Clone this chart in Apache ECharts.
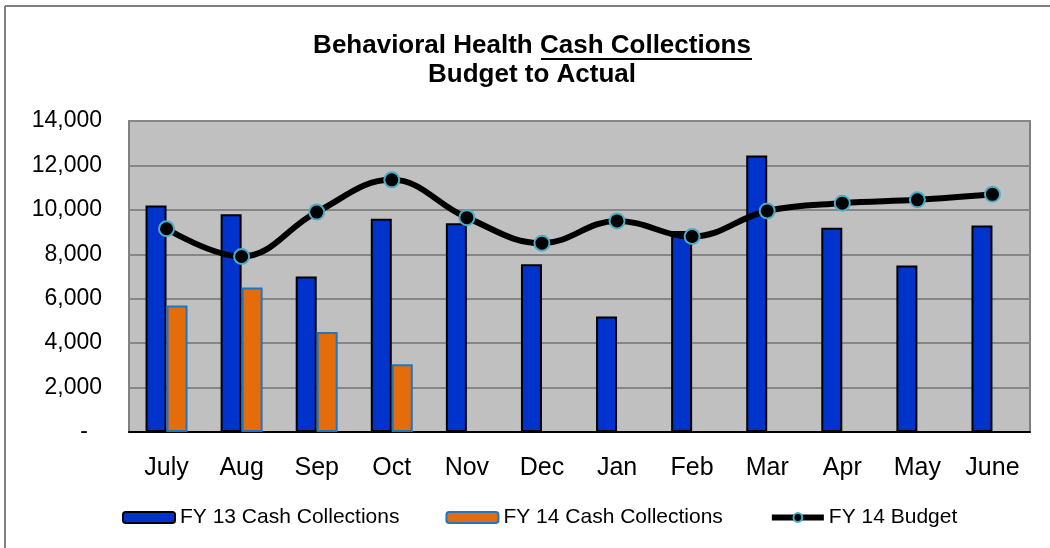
<!DOCTYPE html>
<html>
<head>
<meta charset="utf-8">
<script src="https://cdn.jsdelivr.net/npm/echarts@6/dist/echarts.min.js"></script>
<style>
  html, body { margin: 0; padding: 0; background: #fff; }
  #chart { width: 1050px; height: 548px; }
</style>
</head>
<body>
<div id="chart"></div>
<script>
const categories = ['July', 'Aug', 'Sep', 'Oct', 'Nov', 'Dec', 'Jan', 'Feb', 'Mar', 'Apr', 'May', 'June'];
const fy13Collections = [10200, 9800, 7000, 9600, 9400, 7550, 5200, 9050, 12450, 9200, 7500, 9300];
const fy14Collections = [5700, 6500, 4500, 3050, null, null, null, null, null, null, null, null];
const fy14Budget = [9150, 7900, 9900, 11350, 9650, 8500, 9500, 8800, 9950, 10300, 10450, 10700];
const yMin = 0;
const yMax = 14000;
const yStep = 2000;

const FONT = '"Liberation Sans", Arial, sans-serif';

const chart = echarts.init(document.getElementById('chart'));

chart.setOption({
  backgroundColor: '#fff',
  animation: false,
  textStyle: { fontFamily: FONT },
  graphic: [
    // title, two lines
    {
      type: 'text', x: 532, y: 46,
      style: { text: 'Behavioral Health Cash Collections', font: 'bold 26px ' + FONT, fill: '#000', align: 'center', verticalAlign: 'middle' },
    },
    {
      type: 'text', x: 532, y: 75,
      style: { text: 'Budget to Actual', font: 'bold 26px ' + FONT, fill: '#000', align: 'center', verticalAlign: 'middle' },
    },
    // underline under "Cash Collections"
    { type: 'line', shape: { x1: 541, y1: 59, x2: 752, y2: 59 }, style: { stroke: '#000', lineWidth: 2 } },
    // outer chart frame (top and left edges visible)
    { type: 'line', shape: { x1: 5, y1: 6, x2: 1050, y2: 6 }, style: { stroke: '#7f7f7f', lineWidth: 2 } },
    { type: 'line', shape: { x1: 5, y1: 6, x2: 5, y2: 548 }, style: { stroke: '#7f7f7f', lineWidth: 2 } },
  ],
  legend: {
    left: 117,
    top: 502,
    itemWidth: 52,
    itemHeight: 11,
    itemGap: 46,
    textStyle: { fontFamily: FONT, fontSize: 21, color: '#000' },
    lineStyle: { width: 6 },
    data: ['FY 13 Cash Collections', 'FY 14 Cash Collections', 'FY 14 Budget'],
  },
  grid: {
    left: 129,
    right: 20,
    top: 121,
    bottom: 116,
    show: true,
    backgroundColor: '#c0c0c0',
    borderColor: '#808080',
    borderWidth: 2,
  },
  xAxis: {
    type: 'category',
    data: categories,
    axisLine: { show: true, lineStyle: { color: '#000', width: 2 } },
    axisTick: { show: false },
    axisLabel: { fontFamily: FONT, fontSize: 25, color: '#000', margin: 24 },
  },
  yAxis: {
    type: 'value',
    min: yMin,
    max: yMax,
    interval: yStep,
    axisLine: { show: false },
    axisTick: { show: false },
    axisLabel: {
      fontFamily: FONT,
      fontSize: 23,
      color: '#000',
      margin: 27,
      formatter: (v) => (v === 0 ? '{d|-}' : v.toLocaleString('en-US')),
      rich: { d: { fontFamily: FONT, fontSize: 23, color: '#000', padding: [0, 14, 0, 0] } },
    },
    splitLine: { show: true, lineStyle: { color: '#868686', width: 2 } },
  },
  series: [
    {
      name: 'FY 13 Cash Collections',
      type: 'bar',
      data: fy13Collections,
      barWidth: 21,
      barGap: '0%',
      itemStyle: { color: '#0033cc', borderColor: '#000', borderWidth: 2 },
    },
    {
      name: 'FY 14 Cash Collections',
      type: 'bar',
      data: fy14Collections,
      barWidth: 21,
      barGap: '0%',
      itemStyle: { color: '#e46c0a', borderColor: '#1f77c4', borderWidth: 2 },
    },
    {
      name: 'FY 14 Budget',
      type: 'line',
      data: fy14Budget,
      smooth: 0.4,
      symbol: 'circle',
      symbolSize: 15,
      lineStyle: { color: '#000', width: 6 },
      itemStyle: { color: '#000', borderColor: '#4bacc6', borderWidth: 2 },
      z: 5,
    },
  ],
});
</script>
</body>
</html>
